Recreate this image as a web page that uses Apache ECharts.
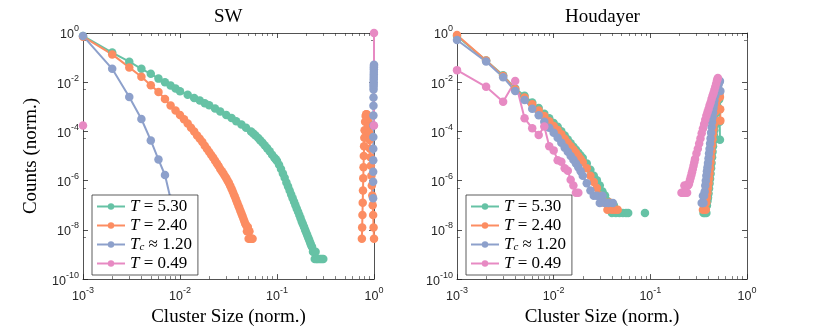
<!DOCTYPE html>
<html>
<head>
<meta charset="utf-8">
<script src="https://cdn.jsdelivr.net/npm/echarts@6/dist/echarts.min.js"></script>
<style>
  html, body { margin: 0; padding: 0; background: #fff; }
  #chart { width: 830px; height: 332px; }
</style>
</head>
<body>
<div id="chart"></div>
<script>
// series names + colours (Set2)
var seriesNames = ['T = 5.30', 'T = 2.40', 'Tc ≈ 1.20', 'T = 0.49'];
var colors = ['#66c2a5', '#fc8d62', '#8da0cb', '#e78ac3'];
var panelTitles = ['SW', 'Houdayer'];

// SW panel, [cluster size (norm.), counts (norm.)]
var swT530 = [
  [0.001,0.76],[0.002,0.16],[0.003,0.068],[0.004,0.035],[0.005,0.022],[0.006,0.014],[0.007,0.010],[0.008,0.0074],[0.009,0.0055],[0.010,0.0043],
  [0.012,0.0031],[0.014,0.0023],[0.016,0.0018],[0.018,0.0014],[0.020,1.15e-3],[0.023,8.6e-4],[0.026,6.5e-4],[0.030,4.7e-4],[0.034,3.5e-4],[0.038,2.6e-4],
  [0.043,1.9e-4],[0.048,1.4e-4],[0.054,1.0e-4],[0.057,8.3e-5],[0.060,6.8e-5],[0.064,5.4e-5],[0.067,4.4e-5],[0.071,3.5e-5],[0.075,2.7e-5],[0.079,2.1e-5],
  [0.084,1.55e-5],[0.089,1.12e-5],[0.094,8.5e-6],[0.097,7.4e-6],[0.100,6.3e-6],[0.105,4.4e-6],[0.110,3.0e-6],[0.115,1.95e-6],[0.120,1.3e-6],[0.125,8.5e-7],
  [0.130,5.8e-7],[0.135,4.0e-7],[0.140,2.75e-7],[0.145,1.95e-7],[0.150,1.38e-7],[0.155,1.0e-7],[0.160,7.2e-8],[0.165,5.4e-8],[0.170,4.0e-8],[0.175,3.0e-8],
  [0.180,2.2e-8],[0.185,1.7e-8],[0.190,1.3e-8],[0.195,1.0e-8],[0.200,7.8e-9],[0.205,6.0e-9],[0.210,4.8e-9],[0.215,3.8e-9],[0.220,3.0e-9],[0.225,2.4e-9],
  [0.230,2.0e-9],[0.235,1.3e-9],[0.240,1.3e-9],[0.245,6.6e-10],[0.250,1.3e-9],[0.255,6.6e-10],[0.260,6.6e-10],[0.270,6.6e-10],[0.280,6.6e-10],[0.290,6.6e-10],[0.300,6.6e-10]
];
var swT240 = [
  [0.001,0.71],[0.002,0.135],[0.003,0.040],[0.004,0.0166],[0.005,0.0076],[0.006,0.0040],[0.007,0.0021],[0.008,0.00112],[0.009,7.1e-4],[0.010,4.7e-4],
  [0.011,3.1e-4],[0.012,2.1e-4],[0.013,1.4e-4],[0.014,1.0e-4],[0.015,6.9e-5],[0.016,5.0e-5],[0.017,3.7e-5],[0.018,2.6e-5],[0.019,1.95e-5],[0.020,1.45e-5],
  [0.021,1.1e-5],[0.022,8.5e-6],[0.023,6.5e-6],[0.024,5.0e-6],[0.025,3.9e-6],[0.026,3.0e-6],[0.027,2.4e-6],[0.028,1.95e-6],[0.029,1.55e-6],[0.030,1.26e-6],
  [0.031,1.0e-6],[0.032,7.9e-7],[0.033,6.1e-7],[0.034,4.7e-7],[0.035,3.6e-7],[0.036,2.75e-7],[0.037,2.1e-7],[0.038,1.6e-7],[0.039,1.25e-7],[0.040,9.5e-8],
  [0.041,7.5e-8],[0.042,5.9e-8],[0.043,4.6e-8],[0.044,3.7e-8],[0.045,2.9e-8],[0.046,2.3e-8],[0.047,1.8e-8],[0.048,1.55e-8],[0.049,8.7e-9],[0.050,1.3e-8],
  [0.051,4.4e-9],[0.052,8.7e-9],[0.053,4.4e-9],[0.054,4.4e-9],[0.055,4.4e-9],[0.056,4.4e-9],
  [0.3,'-'],
  [0.750,4.4e-9],[0.755,1.26e-8],[0.760,4.0e-8],[0.765,1.26e-7],[0.770,4.0e-7],[0.775,1.26e-6],[0.780,3.5e-6],[0.785,1.0e-5],[0.790,2.5e-5],[0.795,5.6e-5],
  [0.800,1.12e-4],[0.810,2.5e-4],[0.820,4.2e-4],[0.830,5.0e-4],[0.840,5.0e-4],[0.850,4.5e-4],[0.860,3.5e-4],[0.870,2.5e-4],[0.880,1.6e-4],[0.890,8.9e-5],
  [0.900,4.5e-5],[0.910,2.0e-5],[0.920,8.9e-6],[0.930,4.0e-6],[0.940,1.6e-6],[0.950,6.3e-7],[0.960,2.5e-7],[0.970,1.0e-7],[0.980,4.0e-8],[0.990,1.26e-8],[1.000,4.4e-9]
];
var swTc120 = [
  [0.001,0.76],[0.002,0.035],[0.003,0.0025],[0.004,3.2e-4],[0.005,4.3e-5],[0.006,7.2e-6],[0.007,1.7e-6],[0.008,1.8e-7],[0.009,2.5e-8],[0.010,4.0e-9],
  [0.5,'-'],
  [0.979,1.95e-7],[0.980,9.1e-7],[0.981,2.3e-6],[0.982,6.8e-6],[0.983,2.0e-5],[0.984,6.0e-5],[0.985,1.74e-4],[0.986,4.4e-4],[0.987,1.1e-3],[0.988,2.4e-3],
  [0.989,5.1e-3],[0.990,6.5e-3],[0.991,8.1e-3],[0.992,0.010],[0.993,0.0129],[0.994,0.0162],[0.995,0.0204],[0.996,0.0263],[0.997,0.034],[0.998,0.040],[0.999,0.046],[1.000,0.051]
];
var swT049 = [[0.001,1.74e-4],[0.5,'-'],[0.999,1.74e-4],[1.000,1.0]];

// Houdayer panel
var hdT530 = [
  [0.001,0.76],[0.002,0.076],[0.003,0.019],[0.004,0.0056],[0.005,0.0028],[0.006,0.0015],[0.007,8.9e-4],[0.008,5.2e-4],[0.009,3.4e-4],[0.010,2.2e-4],
  [0.011,1.55e-4],[0.012,1.02e-4],[0.013,6.8e-5],[0.014,4.7e-5],[0.015,3.3e-5],[0.016,2.4e-5],[0.017,1.8e-5],[0.018,1.35e-5],[0.019,1.05e-5],[0.020,8.3e-6],
  [0.022,5.0e-6],[0.024,2.75e-6],[0.026,1.6e-6],[0.028,1.05e-6],[0.030,6.3e-7],[0.032,3.6e-7],[0.034,2.5e-7],[0.036,1.5e-7],[0.038,9.8e-8],[0.040,4.9e-8],
  [0.042,9.8e-8],[0.044,4.9e-8],[0.048,4.9e-8],[0.052,4.9e-8],[0.056,4.9e-8],[0.059,4.9e-8],
  [0.07,'-'],[0.088,4.9e-8],[0.2,'-'],
  [0.355,4.9e-8],[0.365,4.9e-8],[0.375,9.8e-8],[0.380,4.9e-8],[0.385,9.8e-8],[0.390,1.48e-7],[0.395,2.0e-7],[0.400,3.0e-7],[0.405,4.8e-7],[0.410,7.6e-7],
  [0.415,1.2e-6],[0.420,1.9e-6],[0.425,3.2e-6],[0.430,5.2e-6],[0.435,8.9e-6],[0.440,1.5e-5],[0.445,2.5e-5],[0.450,4.2e-5],[0.455,6.9e-5],[0.460,1.12e-4],
  [0.465,1.74e-4],[0.470,2.6e-4],[0.480,5.6e-4],[0.490,1.12e-3],[0.500,2.0e-3],[0.505,2.8e-3],[0.510,3.2e-3],[0.515,2.0e-3],[0.520,7.9e-4],[0.522,2.5e-4],[0.525,4.6e-5]
];
var hdT240 = [
  [0.001,0.83],[0.002,0.076],[0.003,0.018],[0.004,0.0052],[0.005,0.0024],[0.006,0.00126],[0.007,7.1e-4],[0.008,4.2e-4],[0.009,2.6e-4],[0.010,1.66e-4],
  [0.011,1.15e-4],[0.012,7.6e-5],[0.013,5.1e-5],[0.014,3.5e-5],[0.015,2.5e-5],[0.016,1.86e-5],[0.017,1.35e-5],[0.018,1.0e-5],[0.019,7.6e-6],[0.020,5.6e-6],
  [0.022,3.2e-6],[0.024,1.6e-6],[0.026,8.9e-7],[0.028,5.0e-7],[0.030,2.5e-7],[0.032,1.3e-7],[0.034,1.3e-7],[0.036,6.6e-8],[0.038,1.3e-7],[0.040,6.6e-8],
  [0.043,6.6e-8],[0.046,6.6e-8],
  [0.2,'-'],
  [0.350,6.6e-8],[0.360,6.6e-8],[0.370,1.3e-7],[0.375,6.6e-8],[0.380,1.3e-7],[0.385,2.0e-7],[0.390,3.2e-7],[0.395,5.0e-7],[0.400,7.9e-7],[0.405,1.26e-6],
  [0.410,2.0e-6],[0.415,3.3e-6],[0.420,5.6e-6],[0.425,9.5e-6],[0.430,1.66e-5],[0.435,2.8e-5],[0.440,4.8e-5],[0.445,7.9e-5],[0.450,1.26e-4],[0.455,2.0e-4],
  [0.460,3.0e-4],[0.470,6.3e-4],[0.480,1.12e-3],[0.490,1.9e-3],[0.500,2.8e-3],[0.510,3.8e-3],[0.520,3.5e-3],[0.525,2.5e-3],[0.528,7.9e-4],[0.530,2.75e-4]
];
var hdTc120 = [
  [0.001,0.52],[0.002,0.069],[0.003,0.016],[0.004,0.0044],[0.005,0.0019],[0.006,8.3e-4],[0.007,4.5e-4],[0.008,2.5e-4],[0.009,1.4e-4],[0.010,8.9e-5],
  [0.011,5.6e-5],[0.012,3.5e-5],[0.013,2.2e-5],[0.014,1.5e-5],[0.015,1.0e-5],[0.016,7.1e-6],[0.017,5.0e-6],[0.018,3.5e-6],[0.019,2.4e-6],[0.020,1.6e-6],
  [0.022,7.9e-7],[0.024,4.0e-7],[0.026,2.45e-7],[0.028,2.45e-7],[0.030,1.23e-7],[0.032,2.45e-7],[0.034,1.23e-7],[0.037,1.23e-7],[0.041,1.23e-7],
  [0.2,'-'],
  [0.340,1.23e-7],[0.345,1.23e-7],[0.350,2.45e-7],[0.355,1.23e-7],[0.360,2.45e-7],[0.365,3.6e-7],[0.370,6.3e-7],[0.375,1.0e-6],[0.380,1.6e-6],[0.385,2.4e-6],
  [0.390,3.5e-6],[0.395,5.2e-6],[0.400,7.9e-6],[0.405,1.26e-5],[0.410,2.0e-5],[0.415,3.2e-5],[0.420,5.2e-5],[0.425,8.9e-5],[0.430,1.5e-4],[0.435,2.4e-4],
  [0.440,3.8e-4],[0.445,5.9e-4],[0.450,8.9e-4],[0.455,1.26e-3],[0.460,1.8e-3],[0.470,2.8e-3],[0.480,4.0e-3],[0.490,5.2e-3],[0.500,6.8e-3],[0.510,8.5e-3],
  [0.520,0.0105],[0.525,0.0112],[0.530,4.4e-3]
];
var hdT049 = [
  [0.001,0.031],[0.002,0.0065],[0.003,0.0016],[0.004,0.0112],[0.005,3.4e-4],[0.006,1.35e-4],[0.007,7.2e-5],[0.008,1.6e-4],[0.009,2.5e-5],[0.010,1.7e-5],
  [0.011,6.8e-6],[0.012,5.9e-6],[0.013,3.2e-6],[0.014,2.5e-6],[0.015,1.1e-6],[0.016,6.3e-7],[0.017,3.2e-7],[0.018,3.2e-7],
  [0.1,'-'],
  [0.210,3.2e-7],[0.215,3.2e-7],[0.220,3.2e-7],[0.225,6.3e-7],[0.230,3.2e-7],[0.235,6.3e-7],[0.240,3.2e-7],[0.245,6.3e-7],[0.250,7.1e-7],[0.255,9.5e-7],
  [0.260,1.26e-6],[0.265,1.66e-6],[0.270,2.2e-6],[0.275,3.0e-6],[0.280,4.0e-6],[0.285,5.6e-6],[0.290,7.6e-6],[0.300,1.26e-5],[0.310,2.0e-5],[0.320,3.2e-5],
  [0.330,5.2e-5],[0.340,8.5e-5],[0.350,1.32e-4],[0.360,2.0e-4],[0.370,3.0e-4],[0.380,4.3e-4],[0.390,6.0e-4],[0.400,8.1e-4],[0.410,1.12e-3],[0.420,1.5e-3],
  [0.430,2.1e-3],[0.440,2.8e-3],[0.450,3.6e-3],[0.460,4.8e-3],[0.470,6.6e-3],[0.480,8.9e-3],[0.490,0.012],[0.500,0.015]
];

var panels = [
  [swT530, swT240, swTc120, swT049],
  [hdT530, hdT240, hdTc120, hdT049]
];

var serif = '"Liberation Serif", "Times New Roman", serif';
var sans = '"Liberation Sans", Arial, sans-serif';
var frame = '#262626';

var supRich = {
  b: { fontFamily: sans, fontSize: 12.5, color: frame, verticalAlign: 'bottom', padding: [4, 0, 0, 0] },
  s: { fontFamily: sans, fontSize: 9, color: frame, verticalAlign: 'top', lineHeight: 9 }
};
function powLabel(v) {
  return '{b|10}{s|' + Math.round(Math.log10(v)) + '}';
}

function xAx(grid, pos) {
  var main = pos === 'bottom';
  return {
    type: 'log', logBase: 10, gridIndex: grid, position: pos,
    min: 1e-3, max: 1, interval: 1, splitNumber: 3,
    name: main ? 'Cluster Size (norm.)' : '', nameLocation: 'middle', nameGap: 24,
    nameTextStyle: { fontFamily: serif, fontSize: 19, color: '#000' },
    axisLine: { show: true, onZero: false, lineStyle: { color: frame, width: 0.8 } },
    axisTick: { show: true, inside: true, length: 5, lineStyle: { color: frame, width: 0.8 } },
    minorTick: { show: true, splitNumber: 9, length: 3, lineStyle: { color: frame, width: 0.6 } },
    axisLabel: { show: main, margin: 7, formatter: powLabel, rich: supRich },
    splitLine: { show: false }
  };
}
function yAx(grid, pos) {
  var main = pos === 'left';
  return {
    type: 'log', logBase: 10, gridIndex: grid, position: pos,
    min: 1e-10, max: 1, interval: 2, splitNumber: 5,
    name: (main && grid === 0) ? 'Counts (norm.)' : '', nameLocation: 'middle', nameGap: 42,
    nameTextStyle: { fontFamily: serif, fontSize: 19, color: '#000' },
    axisLine: { show: true, onZero: false, lineStyle: { color: frame, width: 0.8 } },
    axisTick: { show: true, inside: true, length: 5, lineStyle: { color: frame, width: 0.8 } },
    minorTick: { show: true, splitNumber: 2, length: 3, lineStyle: { color: frame, width: 0.6 } },
    axisLabel: { show: main, margin: 4, formatter: powLabel, rich: supRich },
    splitLine: { show: false }
  };
}

var legendLabels = {
  'T = 5.30': '{i|T} = 5.30',
  'T = 2.40': '{i|T} = 2.40',
  'Tc ≈ 1.20': '{i|T}{c|c} ≈ 1.20',
  'T = 0.49': '{i|T} = 0.49'
};
function makeLegend(left) {
  return {
    data: seriesNames, orient: 'vertical', left: left, top: 195,
    itemWidth: 28, itemHeight: 8, itemGap: 2,
    padding: [3, 6, 3, 4],
    backgroundColor: '#fff', borderColor: '#333', borderWidth: 0.8, borderRadius: 0,
    selectedMode: false,
    formatter: function (n) { return legendLabels[n]; },
    textStyle: {
      fontFamily: serif, fontSize: 17, color: '#000', lineHeight: 17,
      rich: {
        i: { fontFamily: serif, fontSize: 17, fontStyle: 'italic', color: '#000', lineHeight: 17 },
        c: { fontFamily: serif, fontSize: 11, fontStyle: 'italic', color: '#000', lineHeight: 11, verticalAlign: 'bottom' }
      }
    }
  };
}

var series = [];
panels.forEach(function (sets, g) {
  sets.forEach(function (d, i) {
    series.push({
      name: seriesNames[i], type: 'line', data: d,
      xAxisIndex: g * 2, yAxisIndex: g * 2,
      symbol: 'circle', symbolSize: 8.5, showSymbol: true, clip: false, connectNulls: false,
      color: colors[i],
      lineStyle: { width: 2, color: colors[i] },
      itemStyle: { color: colors[i] },
      emphasis: { disabled: true }
    });
  });
});

var chart = echarts.init(document.getElementById('chart'), null, { renderer: 'canvas' });
chart.setOption({
  animation: false,
  backgroundColor: '#fff',
  title: [
    { text: panelTitles[0], left: 214, top: 8, padding: 0, textStyle: { fontFamily: serif, fontSize: 19, fontWeight: 'normal', color: '#000' } },
    { text: panelTitles[1], left: 565, top: 8, padding: 0, textStyle: { fontFamily: serif, fontSize: 19, fontWeight: 'normal', color: '#000' } }
  ],
  grid: [
    { left: 83, top: 33, width: 291, height: 249 },
    { left: 457, top: 33, width: 290, height: 249 }
  ],
  legend: [makeLegend(92), makeLegend(466)],
  xAxis: [xAx(0, 'bottom'), xAx(0, 'top'), xAx(1, 'bottom'), xAx(1, 'top')],
  yAxis: [yAx(0, 'left'), yAx(0, 'right'), yAx(1, 'left'), yAx(1, 'right')],
  series: series
});
</script>
</body>
</html>
